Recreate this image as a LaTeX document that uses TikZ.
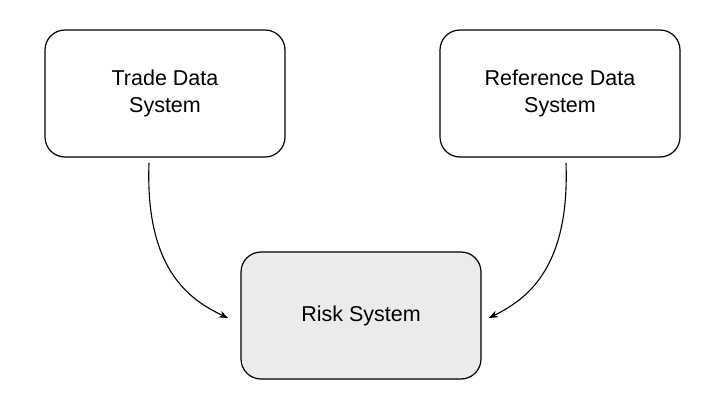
\documentclass[tikz,border=0pt]{standalone}
\usepackage{fontspec}
\setmainfont{Liberation Sans}
\usetikzlibrary{arrows.meta}
\begin{document}
\begin{tikzpicture}[x=1pt,y=-1pt,
  box/.style={draw=black,line width=1.2pt,rounded corners=20pt,minimum width=240pt,minimum height=127pt,align=center,font=\fontsize{21.5}{27}\selectfont},
  conn/.style={line width=1.1pt,-{Stealth[length=9pt,width=7pt]}}]
\useasboundingbox (0,0) rectangle (718,412);
\node[box] (trade) at (165,93.5) {Trade Data\\System};
\node[box] (ref) at (560,93.5) {Reference Data\\System};
\node[box,fill={rgb,255:red,235;green,235;blue,235}] (risk) at (361,315.5) {Risk System};
\coordinate (s1) at (149,163);
\coordinate (e1) at (228,318);
\coordinate (s2) at (566,163);
\coordinate (e2) at (489,318);
\draw[conn] (s1) .. controls (145,270) and (190,300) .. (e1);
\draw[conn] (s2) .. controls (570,270) and (525,300) .. (e2);
\end{tikzpicture}
\end{document}
